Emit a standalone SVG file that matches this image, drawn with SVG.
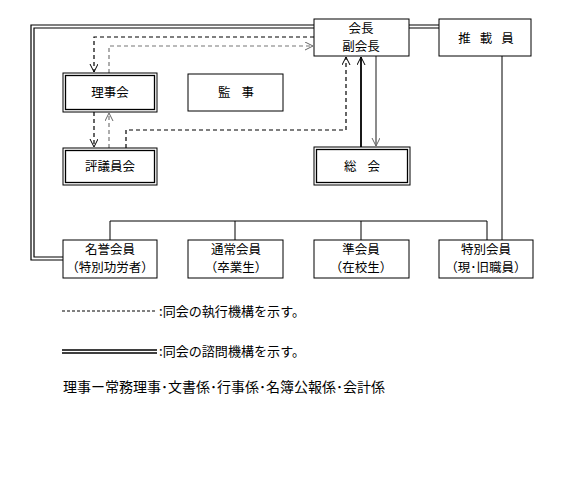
<svg xmlns="http://www.w3.org/2000/svg" width="568" height="493" viewBox="0 0 568 493">
<style>
text{font-family:"Noto Sans CJK JP","Noto Sans CJK SC",sans-serif;font-size:12.5px;fill:#000;text-anchor:middle}
.box{fill:#fff;stroke:#000;stroke-width:1}
.ln{fill:none;stroke:#000;stroke-width:1.2}
.dk{fill:none;stroke:#000;stroke-width:1.2;stroke-dasharray:4 3}
.dg{fill:none;stroke:#777;stroke-width:1.2;stroke-dasharray:4 3}
.lg{font-size:13px;text-anchor:start}
</style>
<defs>
<marker id="ak" markerUnits="userSpaceOnUse" markerWidth="10" markerHeight="10" refX="8" refY="4" orient="auto"><path d="M0,0 L8,4 L0,8" fill="none" stroke="#000" stroke-width="1"/></marker>
<marker id="ag" markerUnits="userSpaceOnUse" markerWidth="10" markerHeight="10" refX="8" refY="4" orient="auto"><path d="M0,0 L8,4 L0,8" fill="none" stroke="#666" stroke-width="1"/></marker>
</defs>
<rect width="568" height="493" fill="#fff"/>
<g id="connectors">
<path class="ln" d="M314,25 H31 V260 H63"/>
<path class="ln" d="M314,28 H34 V257 H63"/>
<path class="ln" d="M409,25 H439 M409,28 H439"/>
<path class="dk" d="M314,37 H94 V72" marker-end="url(#ak)"/>
<path class="dg" d="M109,73 V46 H313" marker-end="url(#ag)"/>
<path class="dk" d="M94,112 V147" marker-end="url(#ak)"/>
<path class="dg" d="M109,148 V113" marker-end="url(#ag)"/>
<path class="dk" d="M126,148 V130 H346 V57" marker-end="url(#ak)"/>
<path fill="none" stroke="#000" stroke-width="1.8" d="M361,147 V57" marker-end="url(#ak)"/>
<path fill="none" stroke="#666" stroke-width="1.5" d="M376,56 V146" marker-end="url(#ag)"/>
<path fill="none" stroke="#000" stroke-width="1" d="M110,240 V221 H487 V240 M235,221 V240 M361,221 V240 M502,56 V240"/>
</g>
<g id="kaicho"><rect class="box" x="314" y="19" width="95" height="37"/><text x="361" y="33">会長</text><text x="361" y="51">副会長</text></g>
<g id="suisai"><rect class="box" x="439" y="19" width="92" height="37"/><text x="486" y="43" style="letter-spacing:9px" dx="4.5">推載員</text></g>
<g id="rijikai"><rect class="box" x="63" y="73" width="94" height="39"/><rect x="65.5" y="75.5" width="89" height="34" fill="none" stroke="#000" stroke-width="1.3"/><text x="110" y="97">理事会</text></g>
<g id="kanji"><rect class="box" x="188" y="74" width="95" height="37"/><text x="236" y="97" style="letter-spacing:11px" dx="5.5">監事</text></g>
<g id="hyogiinkai"><rect class="box" x="63" y="148" width="94" height="37"/><rect x="65.5" y="150.5" width="89" height="32" fill="none" stroke="#000" stroke-width="1.3"/><text x="110" y="171">評議員会</text></g>
<g id="sokai"><rect class="box" x="314" y="147" width="96" height="38"/><rect x="316.5" y="149.5" width="91" height="33" fill="none" stroke="#000" stroke-width="1.3"/><text x="362" y="171" style="letter-spacing:11px" dx="5.5">総会</text></g>
<g id="meiyo"><rect class="box" x="63" y="240" width="94" height="38"/><text x="110" y="254">名誉会員</text><text x="110" y="272">（特別功労者）</text></g>
<g id="tsujo"><rect class="box" x="188" y="240" width="95" height="38"/><text x="236" y="254">通常会員</text><text x="236" y="272">（卒業生）</text></g>
<g id="jun"><rect class="box" x="314" y="240" width="95" height="38"/><text x="361" y="254">準会員</text><text x="361" y="272">（在校生）</text></g>
<g id="tokubetsu"><rect class="box" x="439" y="240" width="94" height="38"/><text x="486" y="254">特別会員</text><text x="486" y="272">（現･旧職員）</text></g>
<g id="legend">
<path d="M62,311 H157" fill="none" stroke="#000" stroke-width="1" stroke-dasharray="3 2"/>
<text class="lg" x="159" y="316" textLength="146" lengthAdjust="spacingAndGlyphs">:同会の執行機構を示す。</text>
<path d="M62,350 H157 M62,353 H157" fill="none" stroke="#000" stroke-width="1.5"/>
<text class="lg" x="159" y="356" textLength="146" lengthAdjust="spacingAndGlyphs">:同会の諮問機構を示す。</text>
<text class="lg" x="63" y="392" textLength="322" lengthAdjust="spacingAndGlyphs" style="font-size:13.5px">理事ー常務理事･文書係･行事係･名簿公報係･会計係</text>
</g>
</svg>
